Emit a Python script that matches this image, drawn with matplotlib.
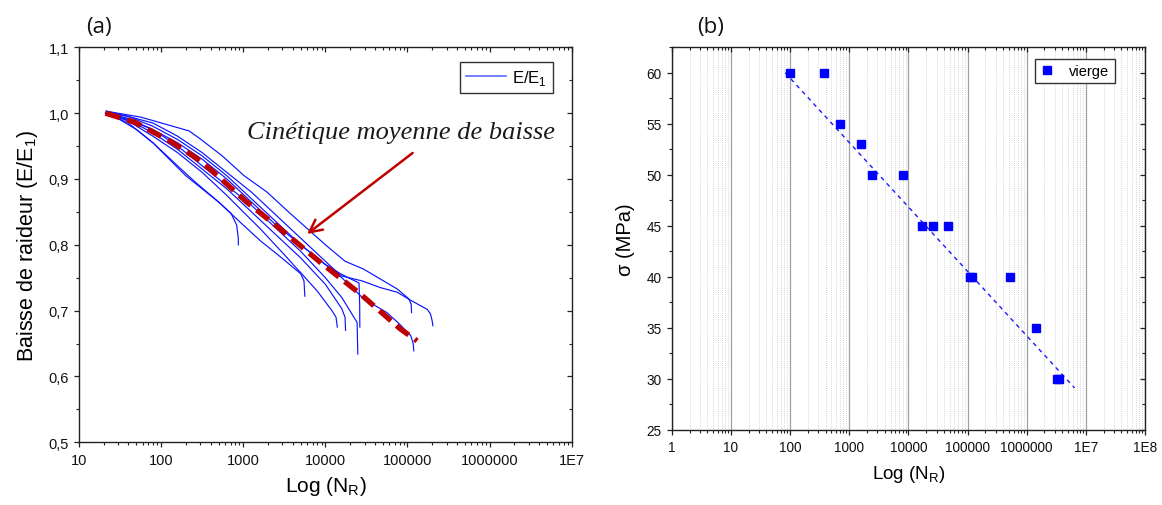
import numpy as np
import matplotlib
matplotlib.use("Agg")
import matplotlib.pyplot as plt
from matplotlib.ticker import FixedLocator, FixedFormatter, LogLocator, NullFormatter, MultipleLocator

plt.rcParams['font.family'] = ['Liberation Sans', 'DejaVu Sans']
plt.rcParams['mathtext.fontset'] = 'custom'
plt.rcParams['mathtext.rm'] = 'Liberation Sans'

# ---------------- data: panel (a) ----------------
# stiffness loss curves, x given as log10(N)
c1_logN = [1.32, 1.5, 1.7, 1.9, 2.1, 2.3, 2.5, 2.7, 2.85, 2.92, 2.94, 2.94]
c1_E    = [1.0, 0.99, 0.975, 0.955, 0.93, 0.905, 0.885, 0.865, 0.848, 0.83, 0.81, 0.80]
c2_logN = [1.33, 1.6, 1.9, 2.2, 2.4, 2.7, 3.0, 3.21, 3.45, 3.70, 3.74, 3.75]
c2_E    = [1.0, 0.985, 0.955, 0.92, 0.897, 0.865, 0.83, 0.806, 0.782, 0.756, 0.745, 0.722]
c3_logN = [1.33, 1.6, 1.9, 2.2, 2.5, 2.8, 3.0, 3.21, 3.5, 3.9, 4.08, 4.13, 4.146]
c3_E    = [1.0, 0.988, 0.965, 0.94, 0.91, 0.875, 0.85, 0.824, 0.785, 0.73, 0.70, 0.69, 0.675]
c4_logN = [1.33, 1.6, 1.9, 2.2, 2.5, 2.8, 3.1, 3.4, 3.7, 4.0, 4.2, 4.24, 4.246]
c4_E    = [1.0, 0.99, 0.97, 0.945, 0.915, 0.885, 0.85, 0.815, 0.78, 0.74, 0.703, 0.69, 0.670]
c5_logN = [1.33, 1.6, 1.9, 2.2, 2.5, 2.8, 3.1, 3.4, 3.7, 4.0, 4.2, 4.387, 4.395]
c5_E    = [1.0, 0.99, 0.975, 0.95, 0.92, 0.89, 0.86, 0.825, 0.79, 0.75, 0.72, 0.682, 0.634]
c6_logN = [1.33, 1.6, 1.9, 2.2, 2.5, 2.8, 3.1, 3.4, 3.7, 4.0, 4.2, 4.41, 4.418, 4.42]
c6_E    = [1.003, 0.995, 0.98, 0.96, 0.935, 0.905, 0.87, 0.835, 0.80, 0.77, 0.755, 0.742, 0.71, 0.675]
c7_logN = [1.33, 1.75, 1.976, 2.34, 2.475, 2.745, 3.01, 3.29, 3.56, 3.785, 4.01, 4.24, 4.467,
           4.67, 4.874, 5.016, 5.045, 5.05]
c7_E    = [1.003, 0.994, 0.986, 0.973, 0.961, 0.935, 0.905, 0.88, 0.849, 0.824, 0.799, 0.775, 0.763,
           0.748, 0.733, 0.718, 0.71, 0.697]
c8_logN = [1.33, 1.6, 1.9, 2.2, 2.5, 2.8, 3.1, 3.4, 3.7, 4.0, 4.2, 4.467, 4.75, 4.9, 5.04, 5.07, 5.077]
c8_E    = [1.0, 0.992, 0.975, 0.955, 0.93, 0.9, 0.865, 0.83, 0.8, 0.77, 0.75, 0.718, 0.697, 0.68,
           0.662, 0.65, 0.639]
c9_logN = [1.33, 1.6, 1.9, 2.2, 2.5, 2.8, 3.1, 3.4, 3.7, 4.0, 4.19, 4.45, 4.67, 4.874, 5.05, 5.24,
           5.28, 5.30, 5.31]
c9_E    = [1.0, 0.995, 0.985, 0.965, 0.94, 0.91, 0.88, 0.845, 0.81, 0.775, 0.753, 0.745, 0.735,
           0.728, 0.715, 0.702, 0.695, 0.685, 0.677]
curves_logN = [c1_logN, c2_logN, c3_logN, c4_logN, c5_logN, c6_logN, c7_logN, c8_logN, c9_logN]
curves_E = [c1_E, c2_E, c3_E, c4_E, c5_E, c6_E, c7_E, c8_E, c9_E]

# mean kinetics (red dashed)
mean_N = [21, 48, 135, 260, 415, 1110, 2830, 8690, 26700, 82200, 131000]
mean_E = [1.0, 0.986, 0.956, 0.933, 0.9126, 0.8646, 0.824, 0.7734, 0.7253, 0.672, 0.654]

a_xticks = [10, 100, 1000, 10000, 100000, 1000000, 10000000]
a_xlabels = ['10', '100', '1000', '10000', '100000', '1000000', '1E7']
a_yticks = [0.5, 0.6, 0.7, 0.8, 0.9, 1.0, 1.1]
a_ylabels = ['0,5', '0,6', '0,7', '0,8', '0,9', '1,0', '1,1']

# ---------------- data: panel (b) ----------------
b_N = [100, 372, 703, 1566, 2450, 8260, 17300, 26400, 46300, 110000, 121000, 520000, 1460000,
       3200000, 3500000]
b_sigma = [60, 60, 55, 53, 50, 50, 45, 45, 45, 40, 40, 40, 35, 30, 30]
fit_N = [83, 6440000]
fit_sigma = [60.0, 29.1]

b_xticks = [1, 10, 100, 1000, 10000, 100000, 1000000, 10000000, 100000000]
b_xlabels = ['1', '10', '100', '1000', '10000', '100000', '1000000', '1E7', '1E8']
b_yticks = [25, 30, 35, 40, 45, 50, 55, 60]

# ---------------- figure ----------------
W, H = 1162, 506
fig = plt.figure(figsize=(W / 100, H / 100), dpi=100)

def frac(x0, x1, ytop, ybot):
    return [x0 / W, (H - ybot) / H, (x1 - x0) / W, (ybot - ytop) / H]

axa = fig.add_axes(frac(79, 571.7, 48.3, 443.3))
axb = fig.add_axes(frac(671.7, 1145, 48.3, 430.7))

spine_col = '#222222'

def style_axes(ax, fs):
    for s in ax.spines.values():
        s.set_linewidth(1.0)
        s.set_color(spine_col)
    ax.tick_params(which='both', top=True, right=True, colors=spine_col, labelcolor='#111111')
    ax.tick_params(which='major', length=3.6, width=0.9, labelsize=fs)
    ax.tick_params(which='minor', length=2.0, width=0.8)
    ax.tick_params(axis='x', which='both', direction='out', pad=4)
    ax.tick_params(axis='y', which='both', direction='out')
    # top/right ticks inward
    for t in ax.xaxis.get_major_ticks() + ax.xaxis.get_minor_ticks():
        t.tick2line.set_marker(3)
    for t in ax.yaxis.get_major_ticks() + ax.yaxis.get_minor_ticks():
        t.tick2line.set_marker(0)

# ---- panel (a)
for lx, ey in zip(curves_logN, curves_E):
    axa.plot(10 ** np.array(lx), ey, color='#0a14ff', lw=0.85, zorder=2)
axa.plot([], [], color='#5a6bff', lw=1.2, label='E/E$_\\mathregular{1}$')
axa.plot(mean_N, mean_E, color='#bf0000', lw=3.8, linestyle=(0, (2.9, 1.4)), zorder=3,
         solid_capstyle='butt', dash_capstyle='butt')

axa.set_xscale('log')
axa.set_xlim(10, 1e7)
axa.set_ylim(0.5, 1.1)
axa.xaxis.set_major_locator(FixedLocator(a_xticks))
axa.xaxis.set_major_formatter(FixedFormatter(a_xlabels))
axa.xaxis.set_minor_locator(LogLocator(base=10, subs=np.arange(2, 10), numticks=20))
axa.xaxis.set_minor_formatter(NullFormatter())
axa.yaxis.set_major_locator(FixedLocator(a_yticks))
axa.yaxis.set_major_formatter(FixedFormatter(a_ylabels))
axa.yaxis.set_minor_locator(MultipleLocator(0.05))
style_axes(axa, 10.5)
axa.set_xlabel('Log (N$_\\mathregular{R}$)', fontsize=15, labelpad=5)
axa.set_ylabel('Baisse de raideur (E/E$_\\mathregular{1}$)', fontsize=15.5, labelpad=6)

leg = axa.legend(loc='upper right', bbox_to_anchor=(0.962, 0.963), borderaxespad=0,
                 fontsize=12, frameon=True, fancybox=False, edgecolor='#333333',
                 framealpha=1, handlelength=2.4, handletextpad=0.4, borderpad=0.35)
leg.get_frame().set_linewidth(1.0)

axa.annotate('', xy=(5990, 0.8164), xytext=(115600, 0.9395),
             arrowprops=dict(arrowstyle='->,head_length=0.9,head_width=0.45',
                             color='#c00000', lw=1.8, shrinkA=0, shrinkB=0))
axa.text(84500, 0.971, 'Cinétique moyenne de baisse', fontsize=19, style='italic',
         family=['Liberation Serif', 'DejaVu Serif'], color='#1a1a1a',
         ha='center', va='center')

fig.text(99 / W, 1 - 27 / H, '(a)', fontsize=16, family=['Open Sans', 'DejaVu Sans'],
         ha='center', va='center', color='#111111')
fig.text(711 / W, 1 - 28 / H, '(b)', fontsize=16, family=['Open Sans', 'DejaVu Sans'],
         ha='center', va='center', color='#111111')

# ---- panel (b)
axb.set_xscale('log')
axb.set_xlim(1, 1e8)
axb.set_ylim(25, 62.5)
axb.xaxis.set_major_locator(FixedLocator(b_xticks))
axb.xaxis.set_major_formatter(FixedFormatter(b_xlabels))
axb.xaxis.set_minor_locator(LogLocator(base=10, subs=np.arange(2, 10), numticks=20))
axb.xaxis.set_minor_formatter(NullFormatter())
axb.yaxis.set_major_locator(FixedLocator(b_yticks))
axb.yaxis.set_minor_locator(MultipleLocator(2.5))
axb.grid(True, which='major', axis='x', color='#a0a0a0', lw=0.9, zorder=0)
axb.grid(True, which='minor', axis='x', color='#c8c8c8', lw=0.6, linestyle=(0, (1, 1.5)), zorder=0)
axb.set_axisbelow(True)
axb.plot(fit_N, fit_sigma, color='#1a1aff', lw=1.0, linestyle=(0, (3, 3)), zorder=2)
axb.plot(b_N, b_sigma, linestyle='none', marker='s', ms=5.3, color='#0000ff',
         label='vierge', zorder=3)
style_axes(axb, 9.8)
axb.set_xlabel('Log (N$_\\mathregular{R}$)', fontsize=13.5, labelpad=6)
axb.set_ylabel('σ (MPa)', fontsize=14.5, labelpad=8)
legb = axb.legend(loc='upper right', bbox_to_anchor=(0.9356, 0.9694), borderaxespad=0,
                  fontsize=10.5, frameon=True, fancybox=False, edgecolor='#333333',
                  framealpha=1, handlelength=1.0, handletextpad=1.0, borderpad=0.35,
                  markerscale=1.0)
legb.get_frame().set_linewidth(1.0)

fig.savefig('out.png', dpi=100)
